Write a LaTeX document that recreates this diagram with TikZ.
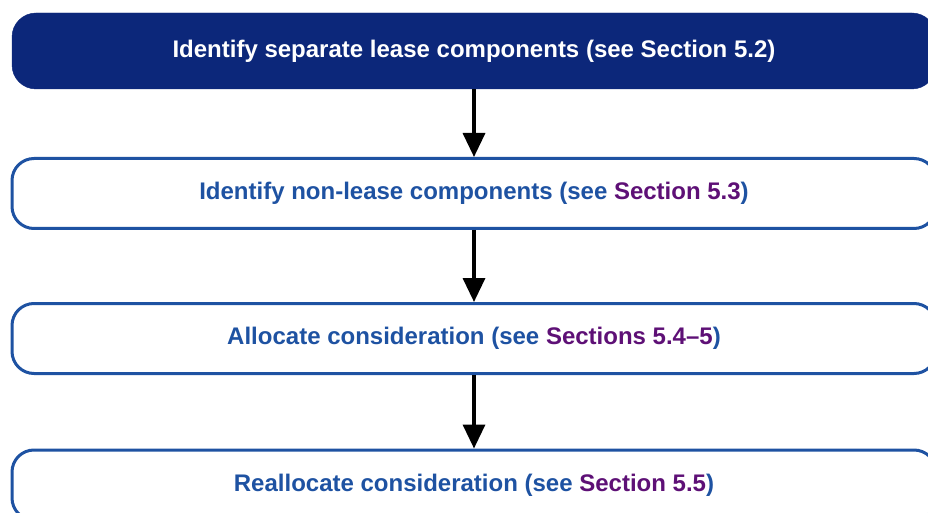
\documentclass[tikz,border=0pt]{standalone}
\usepackage{fontspec}
\setmainfont{Liberation Sans}
\usepackage{xcolor}
\usetikzlibrary{arrows.meta}

\definecolor{navy}{RGB}{12,39,122}
\definecolor{lineblue}{RGB}{30,82,162}
\definecolor{plum}{RGB}{94,16,118}

\begin{document}
\begin{tikzpicture}[x=1pt,y=1pt]
    \tikzstyle{head}=[rectangle, rounded corners=24pt, fill=navy, draw=navy,
            minimum width=924pt, minimum height=76pt, inner sep=0pt,
            text=white, font=\fontsize{24}{28}\selectfont\bfseries]
    \tikzstyle{stage}=[rectangle, rounded corners=22pt, draw=lineblue,
            line width=3pt, fill=white,
            minimum width=924pt, minimum height=70pt, inner sep=0pt,
            text=lineblue, font=\fontsize{24}{28}\selectfont\bfseries]
    \tikzstyle{flow}=[line width=3.5pt, -{Triangle[length=24pt,width=22pt]}]

        \useasboundingbox (0,0) rectangle (928,512);

        \node[head] (s0) at (474,461)
        {Identify separate lease components (see Section 5.2)};

        \node[stage] (s1) at (474,318.5)
        {Identify non-lease components (see \textcolor{plum}{Section 5.3})};

        \node[stage] (s2) at (474,173.5)
        {Allocate consideration (see \textcolor{plum}{Sections 5.4--5})};

        \node[stage] (s3) at (474,27)
        {Reallocate consideration (see \textcolor{plum}{Section 5.5})};

        \foreach \a/\b in {s0/s1, s1/s2, s2/s3}
        {
            \draw[flow] (\a) -- (\b);
        }

    \end{tikzpicture}
\end{document}
